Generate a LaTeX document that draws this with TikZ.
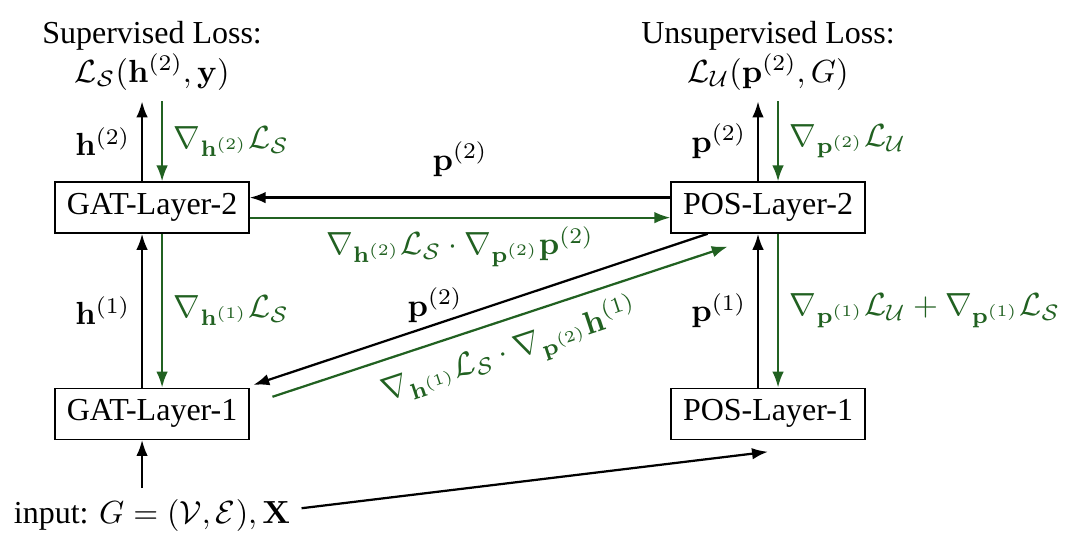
\documentclass[tikz,border=0pt]{standalone}
\usepackage[no-math]{fontspec}
\setmainfont{Liberation Serif}
\usepackage{amsmath,amssymb}
\usepackage{tikz}
\usetikzlibrary{arrows.meta,positioning}
\definecolor{gradgreen}{rgb}{0.13,0.38,0.13}

\begin{document}
\begin{tikzpicture}[
      layer/.style={draw, minimum width=2.13cm, minimum height=0.56cm,
                    inner sep=2pt, align=center},
      loss/.style={align=center},
      fwd/.style={-{Latex[length=5pt,width=3.6pt]}, line width=0.7pt},
      bwd/.style={fwd, color=gradgreen}
  ]
    \useasboundingbox (0,0) rectangle (11.86,-5.91);
    \node[layer] (gat2) at (1.67,-2.28) {GAT-Layer-2};
    \node[layer, below=1.69cm of gat2] (gat1) {GAT-Layer-1};
    \node[layer, right=4.62cm of gat2] (pos2) {POS-Layer-2};
    \node[layer, below=1.69cm of pos2] (pos1) {POS-Layer-1};
    \node[loss, above=0.88cm of gat2] (sup) {Supervised Loss:\\ $\mathcal{L}_{\mathcal{S}}(\mathbf{h}^{(2)},\mathbf{y})$};
    \node[loss, above=0.88cm of pos2] (unsup) {Unsupervised Loss:\\ $\mathcal{L}_{\mathcal{U}}(\mathbf{p}^{(2)},G)$};
    \node[below=0.53cm of gat1] (input) {input: $G=(\mathcal{V},\mathcal{E}),\mathbf{X}$};
    \coordinate[below=0.13cm of pos1.south] (posin);
    % forward pass
    \draw[fwd] ([xshift=-0.11cm]input.north) -- ([xshift=-0.11cm]gat1.south);
    \draw[fwd] ([yshift=0.08cm]input.east) -- (posin);
    \draw[fwd] ([xshift=-0.11cm]gat1.north) -- node[left] {$\mathbf{h}^{(1)}$} ([xshift=-0.11cm]gat2.south);
    \draw[fwd] ([xshift=-0.11cm]gat2.north) -- node[left] {$\mathbf{h}^{(2)}$} ([xshift=-0.11cm]sup.south);
    \draw[fwd] ([xshift=-0.11cm]pos1.north) -- node[left] {$\mathbf{p}^{(1)}$} ([xshift=-0.11cm]pos2.south);
    \draw[fwd] ([xshift=-0.11cm]pos2.north) -- node[left] {$\mathbf{p}^{(2)}$} ([xshift=-0.11cm]unsup.south);
    \draw[fwd] ([yshift=0.11cm]pos2.west) -- node[above=3pt] {$\mathbf{p}^{(2)}$} ([yshift=0.11cm]gat2.east);
    \draw[fwd] ([xshift=0.41cm]pos2.south west) -- node[pos=0.6, above=-3pt] {$\mathbf{p}^{(2)}$} ([xshift=0.04cm,yshift=0.03cm]gat1.north east);
    % backward pass
    \draw[bwd] ([xshift=0.11cm]sup.south) -- node[right] {$\nabla_{\mathbf{h}^{(2)}}\mathcal{L}_{\mathcal{S}}$} ([xshift=0.11cm]gat2.north);
    \draw[bwd] ([xshift=0.11cm]gat2.south) -- node[right] {$\nabla_{\mathbf{h}^{(1)}}\mathcal{L}_{\mathcal{S}}$} ([xshift=0.11cm]gat1.north);
    \draw[bwd] ([xshift=0.11cm]unsup.south) -- node[right] {$\nabla_{\mathbf{p}^{(2)}}\mathcal{L}_{\mathcal{U}}$} ([xshift=0.11cm]pos2.north);
    \draw[bwd] ([xshift=0.11cm]pos2.south) -- node[right] {$\nabla_{\mathbf{p}^{(1)}}\mathcal{L}_{\mathcal{U}}+\nabla_{\mathbf{p}^{(1)}}\mathcal{L}_{\mathcal{S}}$} ([xshift=0.11cm]pos1.north);
    \draw[bwd] ([yshift=-0.11cm]gat2.east) -- node[below=-1pt] {$\nabla_{\mathbf{h}^{(2)}}\mathcal{L}_{\mathcal{S}}\cdot\nabla_{\mathbf{p}^{(2)}}\mathbf{p}^{(2)}$} ([yshift=-0.11cm]pos2.west);
    \draw[bwd] ([xshift=0.25cm,yshift=-0.1cm]gat1.north east) -- node[sloped, below] {$\nabla_{\mathbf{h}^{(1)}}\mathcal{L}_{\mathcal{S}}\cdot\nabla_{\mathbf{p}^{(2)}}\mathbf{h}^{(1)}$} ([xshift=0.63cm,yshift=-0.14cm]pos2.south west);
  \end{tikzpicture}
\end{document}
